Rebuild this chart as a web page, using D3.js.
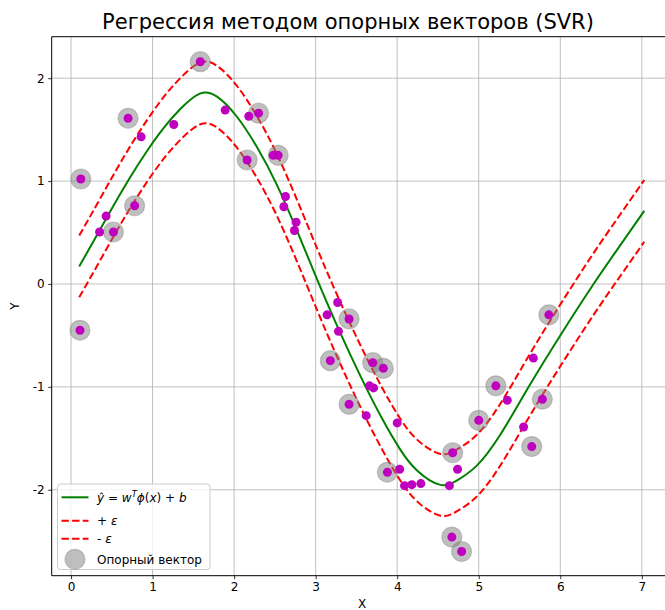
<!DOCTYPE html>
<html><head><meta charset="utf-8">
<script src="https://cdn.jsdelivr.net/npm/d3@7"></script>
<style>body{margin:0;background:#fff}svg{display:block}text{font-family:"DejaVu Sans",sans-serif}</style>
</head><body><svg id="c" width="665" height="610"></svg>
<script>
// ---- data ----
const pointsX = [0.11,0.12,0.35,0.43,0.52,0.70,0.78,0.86,1.26,1.585,1.89,2.16,2.18,2.30,2.48,2.54,2.61,2.63,2.74,2.76,
  3.14,3.18,3.27,3.28,3.41,3.41,3.62,3.66,3.70,3.71,3.83,3.88,4.00,4.03,4.09,4.18,4.29,4.64,4.67,4.68,4.74,4.79,
  5.00,5.21,5.35,5.55,5.65,5.67,5.78,5.86];
const pointsY = [-0.45,1.02,0.505,0.66,0.505,1.61,0.76,1.43,1.55,2.16,1.69,1.205,1.63,1.66,1.25,1.25,0.75,0.85,0.52,0.60,
  -0.30,-0.745,-0.18,-0.46,-0.34,-1.17,-1.28,-0.99,-0.765,-1.01,-0.82,-1.83,-1.35,-1.80,-1.96,-1.95,-1.94,-1.96,-2.46,-1.64,-1.80,-2.60,
  -1.325,-0.99,-1.13,-1.39,-1.58,-0.72,-1.12,-0.30];
const supportX = [0.11,0.12,0.52,0.70,0.78,1.585,2.16,2.30,2.54,3.18,3.41,3.41,3.70,3.83,3.88,4.67,4.68,4.79,5.00,5.21,5.65,5.78,5.86];
const supportY = [-0.45,1.02,0.505,1.61,0.76,2.16,1.205,1.66,1.25,-0.745,-0.34,-1.17,-0.765,-0.82,-1.83,-2.46,-1.64,-2.60,-1.325,-0.99,-1.58,-1.12,-0.30];
const curveX = [0.10,0.315,0.52,0.72,0.93,1.13,1.34,1.58,1.79,2.03,2.28,2.52,2.77,3.01,3.22,3.42,3.62,3.83,4.03,4.24,4.52,4.73,4.97,5.26,5.62,6.00,6.40,6.73,7.03];
const curveY = [0.17,0.47,0.76,1.03,1.29,1.51,1.70,1.85,1.82,1.63,1.33,0.97,0.52,0.06,-0.33,-0.68,-1.01,-1.33,-1.60,-1.81,-1.95,-1.91,-1.77,-1.47,-0.99,-0.50,-0.01,0.37,0.71];
const epsilon = 0.3;
const xTicks = [0,1,2,3,4,5,6,7];
const yTicks = [-2,-1,0,1,2];
const titleText = "Регрессия методом опорных векторов (SVR)";

// ---- layout ----
const svg = d3.select("#c");
const L = 51.7, R = 672, T = 36.7, B = 575.7;
const x = d3.scaleLinear().domain([-0.237, 7.37]).range([L, R]);
const y = d3.scaleLinear().domain([-2.835, 2.403]).range([B, T]);

const clip = svg.append("defs").append("clipPath").attr("id","clip");
clip.append("rect").attr("x",L).attr("y",T).attr("width",R-L).attr("height",B-T);

// grid
const grid = svg.append("g");
grid.selectAll(".gx").data(xTicks).join("line")
  .attr("x1",d=>x(d)).attr("x2",d=>x(d)).attr("y1",T).attr("y2",B)
  .attr("stroke","#b0b0b0").attr("stroke-width",0.8);
grid.selectAll(".gy").data(yTicks).join("line")
  .attr("y1",d=>y(d)).attr("y2",d=>y(d)).attr("x1",L).attr("x2",R)
  .attr("stroke","#b0b0b0").attr("stroke-width",0.8);

// axes
const xAxis = svg.append("g").attr("transform",`translate(0,${B})`)
  .call(d3.axisBottom(x).tickValues(xTicks).tickSize(3.5).tickPadding(3.5).tickFormat(d3.format("d")));
const yAxis = svg.append("g").attr("transform",`translate(${L},0)`)
  .call(d3.axisLeft(y).tickValues(yTicks).tickSize(3.5).tickPadding(3.5).tickFormat(d=>d<0?"-"+Math.abs(d):d));
[xAxis,yAxis].forEach(a=>{
  a.select(".domain").remove();
  a.selectAll("text").attr("font-size",12).attr("font-family","DejaVu Sans").attr("fill","#000");
  a.selectAll("line").attr("stroke","#000").attr("stroke-width",0.8);
});
// spines
svg.append("line").attr("x1",L).attr("x2",R).attr("y1",B).attr("y2",B).attr("stroke","#000").attr("stroke-width",1);
svg.append("line").attr("x1",L).attr("x2",R).attr("y1",T).attr("y2",T).attr("stroke","#000").attr("stroke-width",1);
svg.append("line").attr("x1",L).attr("x2",L).attr("y1",T).attr("y2",B).attr("stroke","#000").attr("stroke-width",1);
svg.append("line").attr("x1",R).attr("x2",R).attr("y1",T).attr("y2",B).attr("stroke","#000").attr("stroke-width",1);

// data layer
const plot = svg.append("g").attr("clip-path","url(#clip)");
const curve = curveX.map((v,i)=>[v,curveY[i]]);
const line = d3.line().x(d=>x(d[0])).y(d=>y(d[1])).curve(d3.curveNatural);
plot.append("path").attr("d",line(curve)).attr("fill","none").attr("stroke","#008000").attr("stroke-width",2);
plot.append("path").attr("d",line(curve.map(d=>[d[0],d[1]+epsilon]))).attr("fill","none")
  .attr("stroke","#ff0000").attr("stroke-width",2).attr("stroke-dasharray","7.4,3.2");
plot.append("path").attr("d",line(curve.map(d=>[d[0],d[1]-epsilon]))).attr("fill","none")
  .attr("stroke","#ff0000").attr("stroke-width",2).attr("stroke-dasharray","7.4,3.2");

plot.selectAll(".sv").data(supportX.map((v,i)=>[v,supportY[i]])).join("circle")
  .attr("cx",d=>x(d[0])).attr("cy",d=>y(d[1])).attr("r",10)
  .attr("fill","#808080").attr("fill-opacity",0.5).attr("stroke","#808080").attr("stroke-opacity",0.4).attr("stroke-width",1.2);
plot.selectAll(".pt").data(pointsX.map((v,i)=>[v,pointsY[i]])).join("circle")
  .attr("cx",d=>x(d[0])).attr("cy",d=>y(d[1])).attr("r",4.5).attr("fill","#bf00bf");

// labels
svg.append("text").attr("x",348).attr("y",29).attr("text-anchor","middle").attr("font-size",21)
  .attr("fill","#000").text(titleText);
svg.append("text").attr("x",362).attr("y",607.5).attr("text-anchor","middle").attr("font-size",12).attr("fill","#000").text("X");
svg.append("text").attr("transform","translate(19,306) rotate(-90)").attr("text-anchor","middle").attr("font-size",12).attr("fill","#000").text("Y");

// legend
const lg = svg.append("g");
lg.append("rect").attr("x",57.5).attr("y",484).attr("width",152.5).attr("height",85.5).attr("rx",3)
  .attr("fill","#fff").attr("fill-opacity",0.8).attr("stroke","#cccccc").attr("stroke-width",1);
lg.append("line").attr("x1",61.5).attr("x2",88.5).attr("y1",497.3).attr("y2",497.3).attr("stroke","#008000").attr("stroke-width",2);
[520.7,538.7].forEach(yy=>lg.append("line").attr("x1",61.5).attr("x2",88.5).attr("y1",yy).attr("y2",yy)
  .attr("stroke","#ff0000").attr("stroke-width",2).attr("stroke-dasharray","7.4,3.2"));
lg.append("circle").attr("cx",75).attr("cy",559.3).attr("r",10).attr("fill","#808080").attr("fill-opacity",0.5)
  .attr("stroke","#808080").attr("stroke-opacity",0.4).attr("stroke-width",1.2);
const m = lg.append("text").attr("x",97).attr("y",501.5).attr("font-size",12).attr("fill","#000");
m.append("tspan").attr("font-style","italic").text("y\u0302");
m.append("tspan").text(" = ");
m.append("tspan").attr("font-style","italic").text("w");
m.append("tspan").attr("font-style","italic").attr("font-size",8.5).attr("dy",-5).text("T");
m.append("tspan").attr("font-style","italic").attr("dy",5).text("ϕ");
m.append("tspan").text("(");
m.append("tspan").attr("font-style","italic").text("x");
m.append("tspan").text(") + ");
m.append("tspan").attr("font-style","italic").text("b");
const e1 = lg.append("text").attr("x",97).attr("y",525).attr("font-size",12).attr("fill","#000");
e1.append("tspan").text("+ "); e1.append("tspan").attr("font-style","italic").text("ε");
const e2 = lg.append("text").attr("x",97).attr("y",543).attr("font-size",12).attr("fill","#000");
e2.append("tspan").text("- "); e2.append("tspan").attr("font-style","italic").text("ε");
lg.append("text").attr("x",97).attr("y",563.5).attr("font-size",12).attr("fill","#000").text("Опорный вектор");
</script></body></html>
